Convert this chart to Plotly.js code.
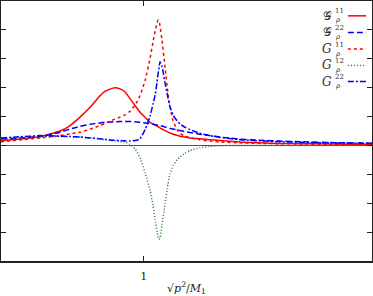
<!DOCTYPE html>
<html><head><meta charset="utf-8">
<script src="https://cdn.plot.ly/plotly-3.0.1.min.js"></script>
<style>html,body{margin:0;padding:0;background:#fff}#c{width:373px;height:296px}</style>
</head><body><div id="c"></div>
<script>
// shared x grid (sqrt(p^2)/M1)
const xs = [0.50,0.567,0.637,0.707,0.742,0.777,0.812,0.847,0.864,0.882,0.899,0.917,0.935,0.952,0.970,0.987,1.005,1.022,1.033,1.040,1.047,1.050,1.054,1.057,1.064,1.075,1.085,1.092,1.103,1.117,1.127,1.145,1.162,1.197,1.232,1.267,1.337,1.408,1.478,1.548,1.653,1.80];
const calG11 = [0.16,0.22,0.30,0.50,0.69,0.98,1.32,1.72,1.87,1.95,2.00,1.96,1.85,1.62,1.38,1.15,0.97,0.80,0.74,0.70,0.67,0.65,0.63,0.61,0.57,0.51,0.46,0.43,0.39,0.35,0.32,0.29,0.26,0.23,0.20,0.17,0.12,0.09,0.07,0.06,0.05,0.03];
const calG22 = [0.22,0.26,0.31,0.46,0.57,0.66,0.73,0.78,0.80,0.81,0.82,0.83,0.83,0.83,0.82,0.80,0.78,0.75,0.73,0.72,0.71,0.70,0.70,0.69,0.67,0.64,0.61,0.59,0.57,0.54,0.52,0.48,0.45,0.39,0.34,0.29,0.22,0.18,0.15,0.13,0.10,0.08];
const G11 = [0.13,0.19,0.26,0.34,0.40,0.46,0.56,0.69,0.76,0.84,0.91,0.98,1.06,1.18,1.40,1.72,2.25,3.00,3.60,3.95,4.25,4.34,4.30,4.15,3.65,2.70,1.80,1.35,0.85,0.55,0.42,0.32,0.27,0.20,0.15,0.12,0.09,0.07,0.06,0.05,0.04,0.03];
const G12 = [0.20,0.25,0.30,0.31,0.30,0.29,0.26,0.22,0.20,0.17,0.15,0.13,0.12,0.04,-0.12,-0.42,-0.95,-1.55,-2.10,-2.55,-3.00,-3.15,-3.25,-3.20,-2.75,-2.00,-1.35,-1.00,-0.70,-0.50,-0.40,-0.27,-0.18,-0.08,-0.03,-0.01,0,0,0,0,0,0];
const G22 = [0.26,0.30,0.34,0.32,0.31,0.29,0.26,0.23,0.21,0.19,0.18,0.17,0.16,0.15,0.17,0.23,0.55,1.00,1.45,1.75,2.20,2.45,2.70,2.90,2.75,2.15,1.65,1.35,1.05,0.85,0.75,0.63,0.55,0.42,0.34,0.28,0.20,0.16,0.13,0.11,0.09,0.07];
const xTickVals = [1];
const xTickText = ['1'];

const series = [
  {y: calG11, sym: '𝒢', sup: '11', color: '#ff0000', dash: 'solid'},
  {y: calG22, sym: '𝒢', sup: '22', color: '#0000ff', dash: '6px,3px'},
  {y: G11,    sym: '<i>G</i>', sup: '11', color: '#ff0000', dash: '3px,3px'},
  {y: G12,    sym: '<i>G</i>', sup: '12', color: '#2e7d32', dash: '1px,2px'},
  {y: G22,    sym: '<i>G</i>', sup: '22', color: '#0000ff', dash: '6px,2px,2px,2px'}
];

const traces = series.map(s => ({
  x: xs, y: s.y, type: 'scatter', mode: 'lines',
  line: {color: s.color, width: 1.5, dash: s.dash, shape: 'spline', smoothing: 0.4},
  showlegend: false, hoverinfo: 'skip'
}));

const annotations = [];
const shapes = [];
const rowY = [0.943, 0.879, 0.815, 0.752, 0.690];
const fnt = 'DejaVu Serif, serif';
series.forEach((s, i) => {
  const y = rowY[i];
  annotations.push({xref:'paper', yref:'paper', x:0.895, y:y, xanchor:'right', yanchor:'middle',
    text: s.sym, showarrow:false, borderpad:0, font:{family:fnt, size:12, color:'#333'}});
  annotations.push({xref:'paper', yref:'paper', x:0.897, y:y+0.017, xanchor:'left', yanchor:'middle',
    text: s.sup, showarrow:false, borderpad:0, font:{family:fnt, size:7, color:'#333'}});
  annotations.push({xref:'paper', yref:'paper', x:0.897, y:y-0.017, xanchor:'left', yanchor:'middle',
    text: '<i>ρ</i>', showarrow:false, borderpad:0, font:{family:fnt, size:7, color:'#333'}});
  shapes.push({type:'line', xref:'paper', yref:'paper', x0:0.935, x1:0.984, y0:y, y1:y,
    line:{color:s.color, width:1.5, dash:s.dash}});
});

const layout = {
  width: 373, height: 296,
  margin: {l: 1, r: 1, t: 1, b: 35},
  paper_bgcolor: '#fff', plot_bgcolor: '#fff',
  font: {family: fnt, color: '#222', size: 11},
  xaxis: {
    range: [0.5, 1.8], showgrid: false, zeroline: false,
    showline: true, linecolor: '#222', linewidth: 1.5, mirror: 'ticks',
    ticks: 'inside', ticklen: 5, tickwidth: 1.2, tickcolor: '#222',
    tickvals: xTickVals, ticktext: xTickText, tickfont: {size: 11},
    ticklabelstandoff: 4,
    title: {text: '√<i>p</i><sup>2</sup>/<i>M</i><sub>1</sub>', font: {size: 11}, standoff: 10}
  },
  yaxis: {
    range: [-4, 5], dtick: 1, tick0: 0, showgrid: false,
    zeroline: true, zerolinecolor: '#555', zerolinewidth: 1,
    showline: true, linecolor: '#222', linewidth: 1.5, mirror: 'ticks',
    ticks: 'inside', ticklen: 5, tickwidth: 1.2, tickcolor: '#222',
    showticklabels: false
  },
  annotations: annotations,
  shapes: shapes,
  showlegend: false
};
Plotly.newPlot('c', traces, layout, {displayModeBar: false, staticPlot: true});
</script></body></html>
